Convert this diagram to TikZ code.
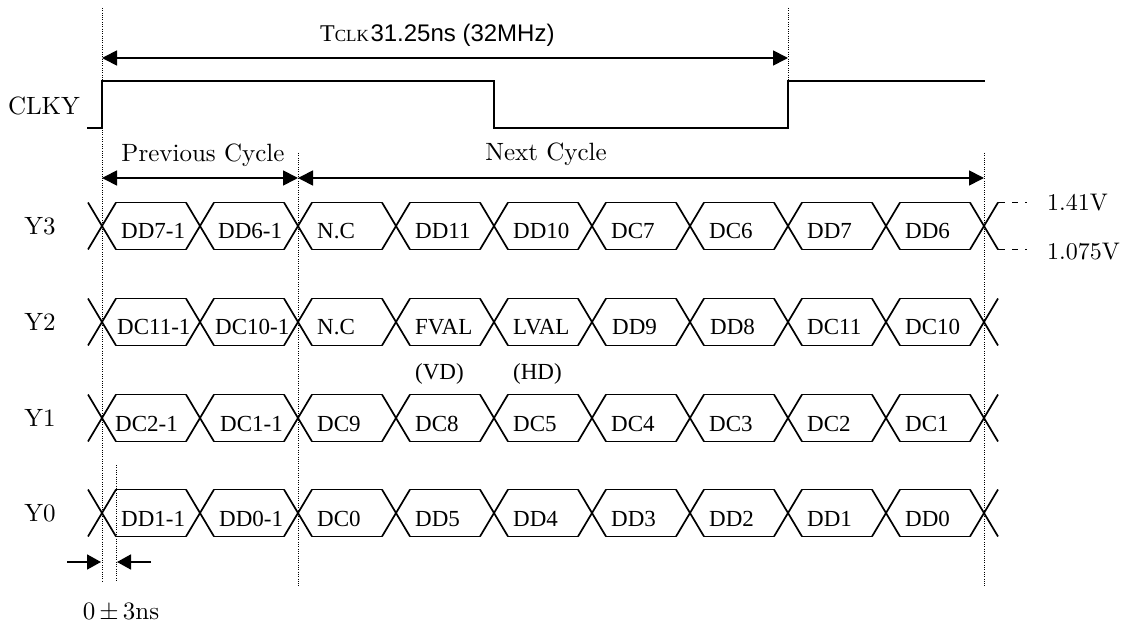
\documentclass[tikz,border=0pt]{standalone}
\usepackage{fontspec}
\setmainfont{lmroman10-regular}[Extension=.otf]
\usetikzlibrary{arrows.meta}
\newfontfamily\tms{Liberation Serif}
\newfontfamily\arl{Liberation Sans}
\newcommand\sigrow[3]{%
\begin{scope}[shift={(0,#1)}]
  \node[lbl] (#2) at (40,0) {#2};
  \foreach \c in {102,200,...,984} {
    \draw[sig] (\c-14,-23.5) -- (\c+14,23.5);
    \draw[sig] (\c-14,23.5) -- (\c+14,-23.5);
  }
  \foreach \t/\o [count=\i from 0] in {#3} {
    \pgfmathsetmacro\xa{102+98*\i}
    \draw[sig] (\xa+14,-23.5) -- (\xa+84,-23.5);
    \draw[sig] (\xa+14,23.5) -- (\xa+84,23.5);
    \node[cell] (#2-\i) at (\xa+\o,13) {\t};
  }
\end{scope}}
\begin{document}
\begin{tikzpicture}[x=1pt,y=-1pt,
  sig/.style={line width=1.7pt},
  guide/.style={line width=1pt, dash pattern=on 1pt off 1.3pt},
  dimline/.style={line width=1.7pt},
  lbl/.style={inner sep=0pt, font=\fontsize{25}{25}\selectfont},
  cell/.style={inner sep=0pt, anchor=base west, font=\tms\fontsize{23}{23}\selectfont},
  volt/.style={inner sep=0pt, anchor=west, font=\fontsize{24}{24}\selectfont}]
\useasboundingbox (0,0) rectangle (1133,628);
% guide lines
\draw[guide] (102,8) -- (102,582);
\draw[guide] (298,153) -- (298,587);
\draw[guide] (788,8) -- (788,83);
\draw[guide] (984,153) -- (984,587);
\draw[guide] (116,465) -- (116,582);
% period arrow
\coordinate (t0) at (102,58);
\coordinate (t1) at (788,58);
\draw[dimline, {Triangle[length=15pt,width=15pt]}-{Triangle[length=15pt,width=15pt]}] (t0) -- (t1);
\node[inner sep=0pt, anchor=base west] (tclk) at (320,42)
  {{\tms\fontsize{24}{24}\selectfont T\fontsize{17}{17}\selectfont CLK}\,{\arl\fontsize{24}{24}\selectfont 31.25ns (32MHz)}};
% clock
\node[lbl] (clky) at (44,106) {CLKY};
\draw[sig] (87,128) -- (102,128) -- (102,81) -- (494,81) -- (494,128) -- (788,128) -- (788,81) -- (985,81);
% cycles
\coordinate (p0) at (102,178);
\coordinate (p1) at (298,178);
\coordinate (n1) at (984,178);
\draw[dimline, {Triangle[length=15pt,width=15pt]}-{Triangle[length=15pt,width=15pt]}] (p0) -- (p1);
\draw[dimline, {Triangle[length=15pt,width=15pt]}-{Triangle[length=15pt,width=15pt]}] (p1) -- (n1);
\node[lbl, anchor=base] (prev) at (203,162) {Previous Cycle};
\node[lbl, anchor=base] (next) at (546,161) {Next Cycle};
% rows
\sigrow{226}{Y3}{DD7-1/19, DD6-1/18, N.C/19, DD11/19, DD10/19, DC7/19, DC6/19, DD7/19, DD6/19}
\sigrow{322}{Y2}{DC11-1/15, DC10-1/15, N.C/19, FVAL/19, LVAL/19, DD9/20, DD8/20, DC11/19, DC10/19}
\sigrow{418}{Y1}{DC2-1/13, DC1-1/20, DC9/19, DC8/19, DC5/19, DC4/19, DC3/19, DC2/19, DC1/19}
\sigrow{513}{Y0}{DD1-1/19, DD0-1/19, DC0/19, DD5/19, DD4/19, DD3/19, DD2/19, DD1/19, DD0/19}
% levels
\coordinate (h0) at (998,202.5);
\coordinate (h1) at (1028,202.5);
\coordinate (l0) at (998,249.5);
\coordinate (l1) at (1028,249.5);
\draw[line width=1.5pt, dash pattern=on 7pt off 7pt on 6pt off 7pt on 2pt off 10pt] (h0) -- (h1);
\draw[line width=1.5pt, dash pattern=on 7pt off 7pt on 6pt off 7pt on 2pt off 10pt] (l0) -- (l1);
\node[volt] (vh) at (1047,202.5) {1.41V};
\node[volt] (vl) at (1047,252) {1.075V};
% sub labels
\node[cell] (vd) at (415,380) {(VD)};
\node[cell] (hd) at (513,380) {(HD)};
% skew
\coordinate (s0) at (67,562);
\coordinate (s1) at (101,562);
\coordinate (s2) at (117,562);
\coordinate (s3) at (151,562);
\draw[dimline, -{Triangle[length=14pt,width=15pt]}] (s0) -- (s1);
\draw[dimline, -{Triangle[length=14pt,width=15pt]}] (s3) -- (s2);
\node[lbl] (skew) at (121,612) {0\,$\pm$\,3ns};
\end{tikzpicture}
\end{document}
